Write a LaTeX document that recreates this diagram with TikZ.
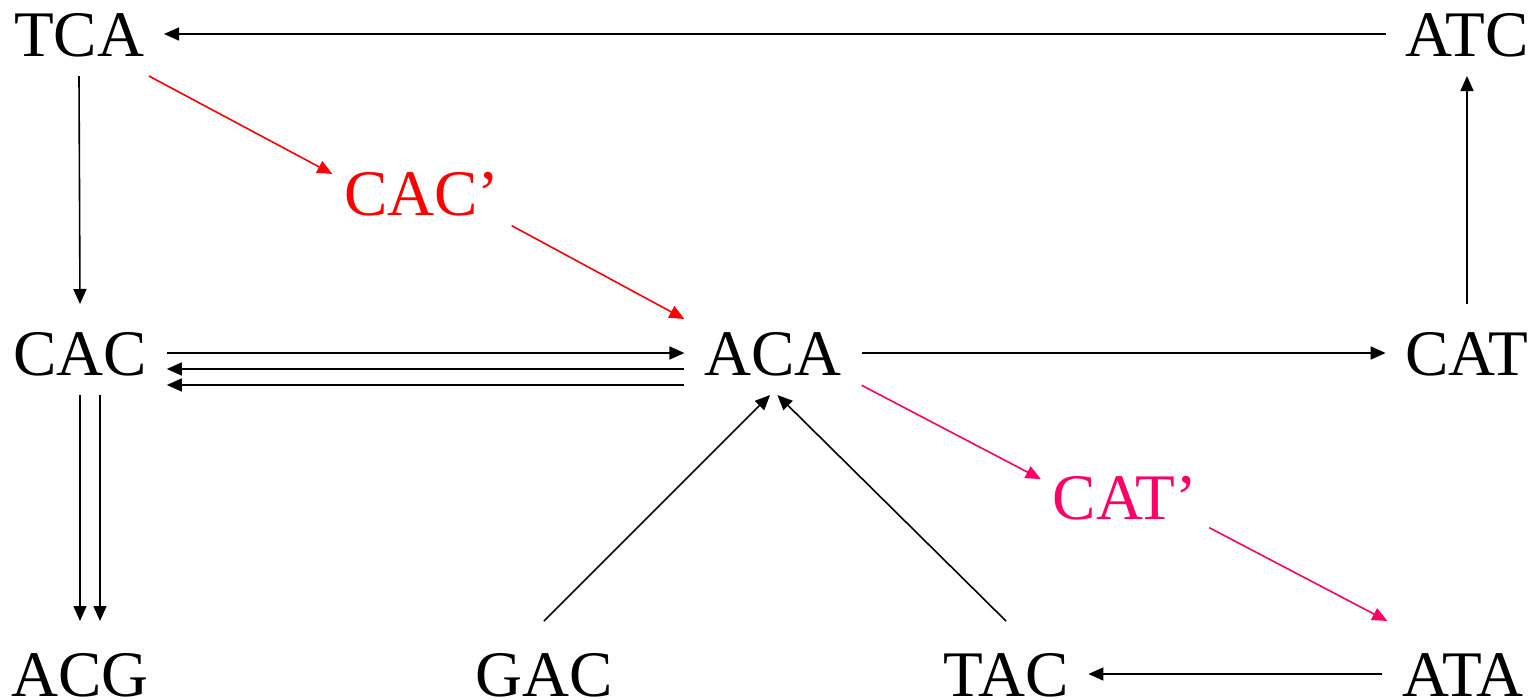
\documentclass[tikz,border=0pt]{standalone}
\usepackage{fontspec}
\setmainfont{Liberation Serif}
\usetikzlibrary{arrows.meta}
\definecolor{catpink}{RGB}{255,0,102}
\tikzset{
    word/.style={font=\fontsize{65}{70}\selectfont, inner sep=0pt, outer sep=20pt, text height=44pt, text depth=0pt},
    primed/.style={word, outer xsep=12pt},
    low/.style={word, outer ysep=31pt},
    link/.style={line width=1.6pt, -{Triangle[length=15pt,width=13pt]}}
}
\begin{document}
\begin{tikzpicture}[x=1pt,y=-1pt]
        \useasboundingbox (0,0) rectangle (1539,699);
        \node [word] (TCA) at (79,34) {TCA};
        \node [word] (ATC) at (1467,34) {ATC};
        \node [primed,text=red] (CACp) at (422,193) {CAC’};
        \node [word] (CAC) at (80,353) {CAC};
        \node [word] (ACA) at (773,353) {ACA};
        \node [word] (CAT) at (1467,353) {CAT};
        \node [primed,text=catpink] (CATp) at (1125,497) {CAT’};
        \node [low] (ACG) at (80,674) {ACG};
        \node [low] (GAC) at (544,674) {GAC};
        \node [low] (TAC) at (1006,674) {TAC};
        \node [low] (ATA) at (1463,674) {ATA};
        \draw [link] (ATC.west) -- (TCA.east);
        \draw [link] (TCA.south) -- ([yshift=7pt]CAC.north);
        \draw [link,red] (TCA.-31) -- (CACp.168);
        \draw [link,red] (CACp.-20) -- (ACA.159);
        \draw [link] (CAC.east) -- (ACA.west);
        \draw [link] ([yshift=-16pt]ACA.west) -- ([yshift=-16pt]CAC.east);
        \draw [link] ([yshift=-32pt]ACA.west) -- ([yshift=-32pt]CAC.east);
        \draw [link] (CAC.south) -- (ACG.north);
        \draw [link] ([xshift=20pt]CAC.south) -- ([xshift=20pt]ACG.north);
        \draw [link] (ACA.east) -- (CAT.west);
        \draw [link] ([yshift=7pt]CAT.north) -- (ATC.south);
        \draw [link,catpink] (ACA.-20) -- (CATp.168);
        \draw [link,catpink] (CATp.-20) -- (ATA.145);
        \draw [link] (GAC.north) -- (ACA.-94);
        \draw [link] (TAC.north) -- (ACA.-84);
        \draw [link] (ATA.west) -- (TAC.east);
    \end{tikzpicture}
\end{document}
